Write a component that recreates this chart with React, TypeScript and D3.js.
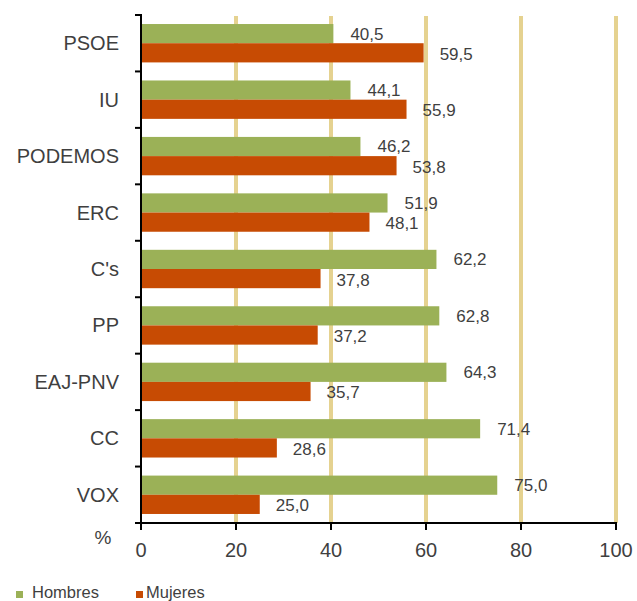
import React from "react";
import * as d3 from "d3";

const categories = ["PSOE", "IU", "PODEMOS", "ERC", "C's", "PP", "EAJ-PNV", "CC", "VOX"];
const hombres = [40.5, 44.1, 46.2, 51.9, 62.2, 62.8, 64.3, 71.4, 75.0];
const mujeres = [59.5, 55.9, 53.8, 48.1, 37.8, 37.2, 35.7, 28.6, 25.0];
const xTicks = [0, 20, 40, 60, 80, 100];
const seriesNames = ["Hombres", "Mujeres"];

const W = 637;
const H = 601;
const left = 141;
const right = 616;
const top = 15;
const bottom = 523;
const green = "#9bb157";
const red = "#c74b03";
const grid = "#e5d290";
const textColor = "#3f3f3f";
const font = "'Liberation Sans', Arial, sans-serif";

export default function App() {
  const x = d3.scaleLinear().domain([0, 100]).range([left, right]);
  const y = d3.scaleBand<string>().domain(categories).range([top, bottom]).paddingInner(0.32).paddingOuter(0.16);
  const sub = d3.scaleBand<string>().domain(seriesNames).range([0, y.bandwidth()]);
  const fmt = (v: number) => v.toFixed(1).replace(".", ",");
  const bw = y.step();

  return (
    <svg width={W} height={H} style={{ position: "absolute", left: 0, top: 0, display: "block" }}>
      <rect x={0} y={0} width={W} height={H} fill="#fff" />
      {xTicks.filter((t) => t > 0).map((t) => (
        <line key={"g" + t} x1={x(t)} x2={x(t)} y1={top + 1} y2={bottom} stroke={grid} strokeWidth={4} />
      ))}
      {categories.map((c, i) => {
        const y0 = y(c)!;
        const gy = y0 + sub("Hombres")!;
        const ry = y0 + sub("Mujeres")!;
        const h = sub.bandwidth();
        return (
          <g key={c}>
            <rect x={x(0) + 1} y={gy} width={x(hombres[i]) - x(0) - 1} height={h} fill={green} />
            <rect x={x(0) + 1} y={ry} width={x(mujeres[i]) - x(0) - 1} height={h} fill={red} />
            <text x={x(hombres[i]) + 17} y={gy + h / 2} dy="0.35em" fontSize={17} fill={textColor} fontFamily={font}>
              {fmt(hombres[i])}
            </text>
            <text x={x(mujeres[i]) + 16} y={ry + h / 2 + 1} dy="0.35em" fontSize={17} fill={textColor} fontFamily={font}>
              {fmt(mujeres[i])}
            </text>
            <text x={119} y={y0 + y.bandwidth() / 2} dy="0.35em" fontSize={20} textAnchor="end" fill={textColor} fontFamily={font}>
              {c}
            </text>
          </g>
        );
      })}
      {categories.map((c, i) => (
        <line key={"t" + c} x1={left - 6} x2={left} y1={top + i * bw} y2={top + i * bw} stroke="#000" strokeWidth={2} />
      ))}
      <line x1={left} x2={left} y1={top - 1} y2={bottom + 7} stroke="#000" strokeWidth={2} />
      <line x1={left - 6} x2={right + 1} y1={bottom} y2={bottom} stroke="#000" strokeWidth={2} />
      {xTicks.map((t) => (
        <g key={"x" + t}>
          <line x1={x(t)} x2={x(t)} y1={bottom} y2={bottom + 7} stroke="#000" strokeWidth={2} />
          <text x={x(t)} y={bottom + 27} dy="0.35em" fontSize={20} textAnchor="middle" fill={textColor} fontFamily={font}>
            {t}
          </text>
        </g>
      ))}
      <text x={103} y={537} dy="0.35em" fontSize={19} textAnchor="middle" fill={textColor} fontFamily={font}>
        %
      </text>
      <rect x={16} y={591} width={7} height={7} fill={green} />
      <text x={32} y={598} fontSize={16.5} fill={textColor} fontFamily={font}>Hombres</text>
      <rect x={136} y={591} width={7} height={7} fill={red} />
      <text x={146} y={598} fontSize={16.5} fill={textColor} fontFamily={font}>Mujeres</text>
    </svg>
  );
}
